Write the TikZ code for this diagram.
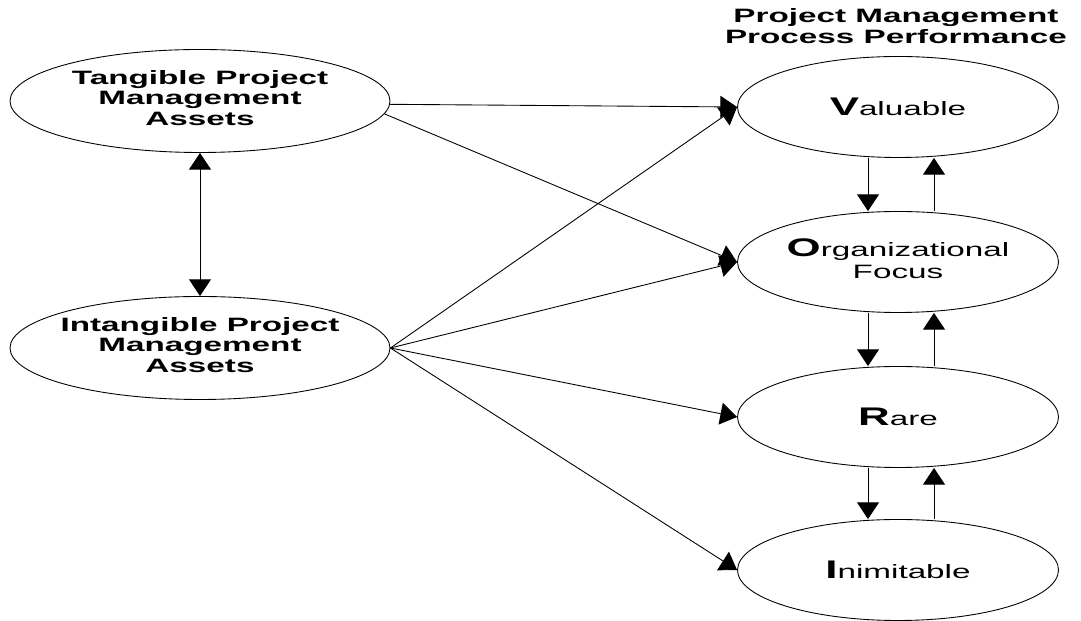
\documentclass[tikz,border=0pt]{standalone}
\usepackage{fontspec}
\setmainfont{Liberation Sans}
\usepackage{graphicx}
\usetikzlibrary{positioning,shapes.geometric,arrows.meta}
\newcommand{\wide}[1]{\scalebox{1.72}[1]{#1}}
\newcommand{\firstletter}[1]{{\fontsize{14.5}{14.5}\selectfont\bfseries #1}}

\begin{document}
\begin{tikzpicture}
\tikzset{A/.style={ellipse,draw=black,line width=0.5pt,minimum width=7.6cm,minimum height=2.06cm,inner sep=0pt,inner xsep=-0.8cm,font=\fontsize{11}{11.4}\selectfont\bfseries}}
\tikzset{F/.style={ellipse,draw=black,line width=0.5pt,minimum width=6.42cm,minimum height=2.02cm,inner sep=0pt,inner xsep=-0.8cm,font=\fontsize{11}{13}\selectfont}}
\tikzset{arr/.style={line width=0.5pt,-{Triangle[length=9.5pt,width=12.5pt]}}}

  \useasboundingbox (0,0) rectangle (21.62,12.42);

  \node[A] (tan)   at (4.0,10.40) {\wide{\begin{tabular}{@{}c@{}}Tangible Project\\Management\\Assets\end{tabular}}};
  \node[A] (intan) at (4.0,5.46)  {\wide{\begin{tabular}{@{}c@{}}Intangible Project\\Management\\Assets\end{tabular}}};

  \node[F] (v) at (17.96,10.28) {\wide{\firstletter{V}aluable}};
  \node[F] (o) at (17.96,7.18)  {\wide{\begin{tabular}{@{}c@{}}\firstletter{O}rganizational\\Focus\end{tabular}}};
  \node[F] (r) at (17.96,4.08)  {\wide{\firstletter{R}are}};
  \node[F] (i) at (17.96,1.02)  {\wide{\firstletter{I}nimitable}};

  \node[font=\fontsize{11}{11.6}\selectfont\bfseries] (title) at (17.92,11.84) {\wide{\begin{tabular}{@{}c@{}}Project Management\\Process Performance\end{tabular}}};

  \draw[line width=0.5pt,{Triangle[length=9.5pt,width=12.5pt]}-{Triangle[length=9.5pt,width=12.5pt]}] (tan) -- (intan);

  \draw[arr] (tan.-1) -- (v.west);
  \draw[arr] (tan.-4) -- (o.west);
  \draw[arr] (intan.east) -- (v.west);
  \draw[arr] (intan.east) -- (o.west);
  \draw[arr] (intan.east) -- (r.west);
  \draw[arr] (intan.east) -- (i.west);

  \draw[arr] ([xshift=-0.6cm]v.south) -- ([xshift=-0.6cm]o.north);
  \draw[arr] ([xshift=0.72cm]o.north) -- ([xshift=0.72cm]v.south);
  \draw[arr] ([xshift=-0.6cm]o.south) -- ([xshift=-0.6cm]r.north);
  \draw[arr] ([xshift=0.72cm]r.north) -- ([xshift=0.72cm]o.south);
  \draw[arr] ([xshift=-0.6cm]r.south) -- ([xshift=-0.6cm]i.north);
  \draw[arr] ([xshift=0.72cm]i.north) -- ([xshift=0.72cm]r.south);
\end{tikzpicture}
\end{document}
